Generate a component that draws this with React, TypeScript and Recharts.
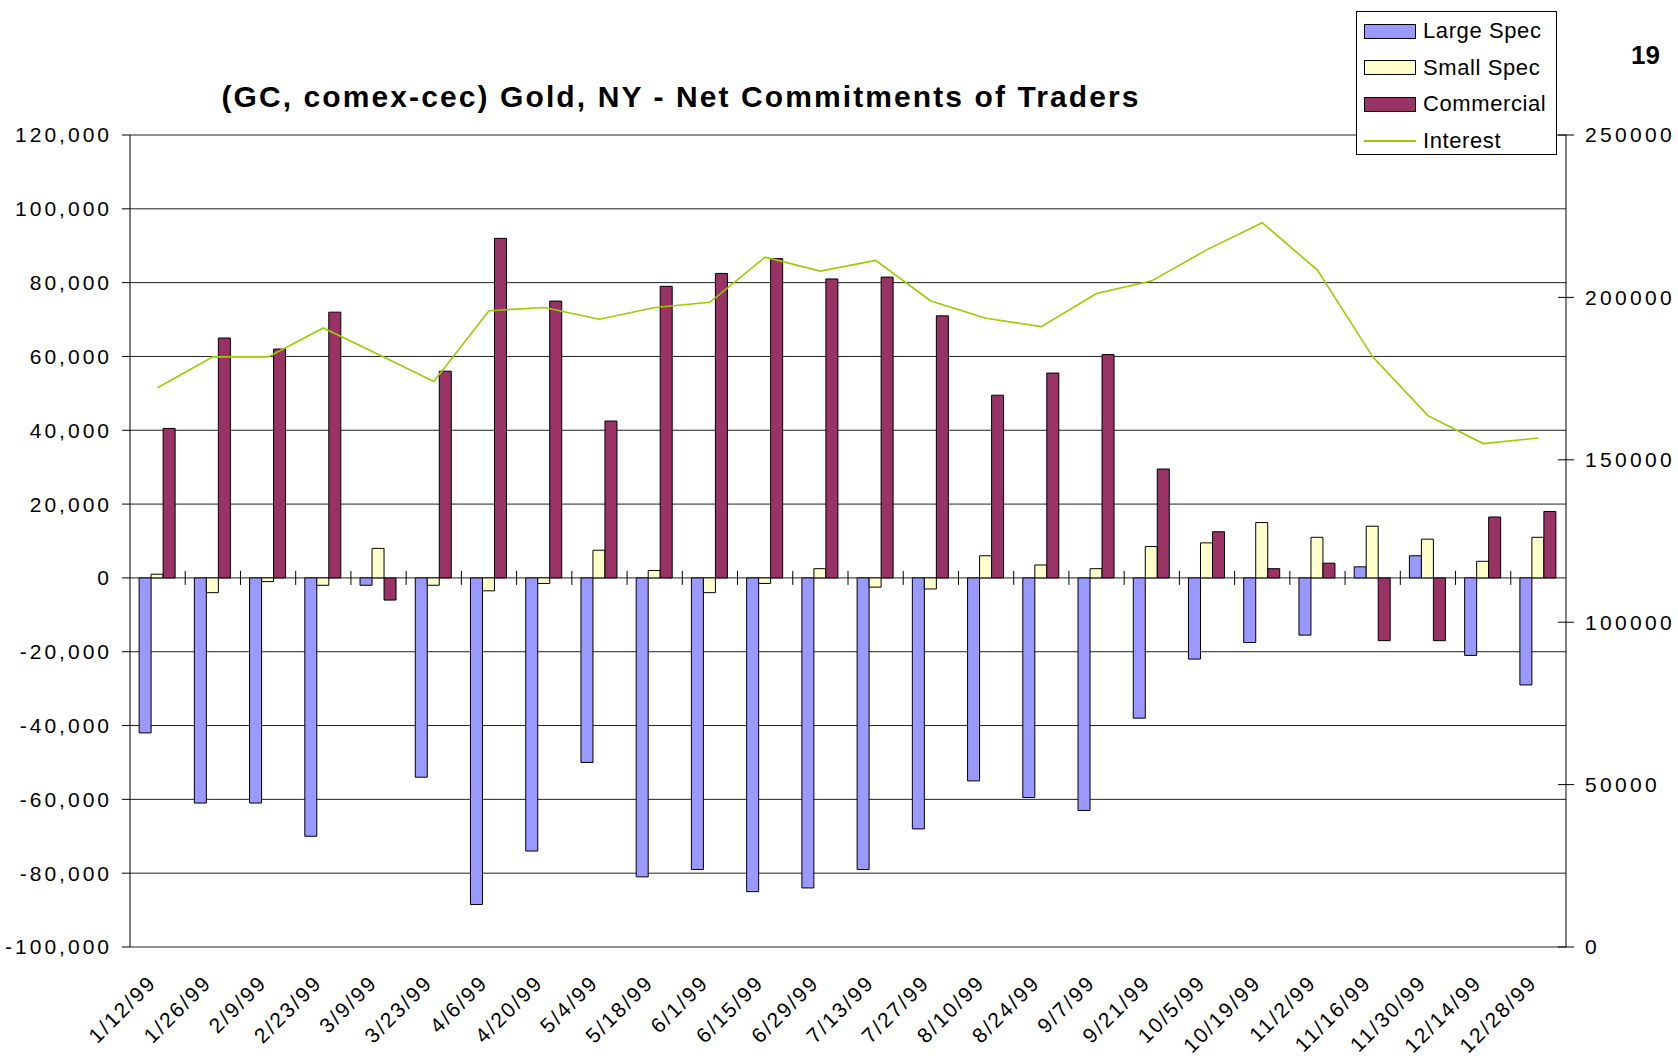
import {
  ComposedChart, Bar, Line, XAxis, YAxis, CartesianGrid, ReferenceLine,
} from 'recharts';

const dates = [
  '1/12/99', '1/26/99', '2/9/99', '2/23/99', '3/9/99', '3/23/99', '4/6/99',
  '4/20/99', '5/4/99', '5/18/99', '6/1/99', '6/15/99', '6/29/99', '7/13/99',
  '7/27/99', '8/10/99', '8/24/99', '9/7/99', '9/21/99', '10/5/99', '10/19/99',
  '11/2/99', '11/16/99', '11/30/99', '12/14/99', '12/28/99',
];

const largeSpec = [
  -42000, -61000, -61000, -70000, -2000, -54000, -88500, -74000, -50000, -81000,
  -79000, -85000, -84000, -79000, -68000, -55000, -59500, -63000, -38000, -22000,
  -17500, -15500, 3000, 6000, -21000, -29000,
];

const smallSpec = [
  1000, -4000, -1000, -2000, 8000, -2000, -3500, -1500, 7500, 2000,
  -4000, -1500, 2500, -2500, -3000, 6000, 3500, 2500, 8500, 9500,
  15000, 11000, 14000, 10500, 4500, 11000,
];

const commercial = [
  40500, 65000, 62000, 72000, -6000, 56000, 92000, 75000, 42500, 79000,
  82500, 86500, 81000, 81500, 71000, 49500, 55500, 60500, 29500, 12500,
  2500, 4000, -17000, -17000, 16500, 18000,
];

const interest = [
  172200, 181700, 181700, 190600, 182400, 174100, 195900, 196900, 193300, 196900,
  198500, 212400, 208100, 211400, 198900, 193600, 191000, 201200, 205100, 214700,
  223000, 208400, 181700, 163600, 155000, 156700,
];

const leftTicks = [-100000, -80000, -60000, -40000, -20000, 0, 20000, 40000, 60000, 80000, 100000, 120000];
const rightTicks = [0, 50000, 100000, 150000, 200000, 250000];

const data = dates.map((date, i) => ({
  date,
  largeSpec: largeSpec[i],
  smallSpec: smallSpec[i],
  commercial: commercial[i],
  interest: interest[i],
}));

const FONT = "'Liberation Sans', Arial, Helvetica, sans-serif";

const legendItems = [
  { name: 'Large Spec', color: '#9999FF', kind: 'bar' },
  { name: 'Small Spec', color: '#FFFFCC', kind: 'bar' },
  { name: 'Commercial', color: '#993366', kind: 'bar' },
  { name: 'Interest', color: '#99CC00', kind: 'line' },
];

const DateTick = ({ x, y, payload }: any) => (
  <g transform={`translate(${x},${y + 29})`}>
    <text
      x={0}
      y={0}
      textAnchor="end"
      transform="rotate(-45)"
      fontFamily={FONT}
      fontSize={21}
      letterSpacing={2.2}
      fill="#000"
    >
      {payload.value}
    </text>
  </g>
);

// right axis: tick mark crosses the axis line, like the old Excel look
const RightTick = ({ x, y, payload }: any) => (
  <g>
    <line x1={x - 27} x2={x - 11} y1={y} y2={y} stroke="#000" />
    <text
      x={x}
      y={y}
      dy="0.355em"
      textAnchor="start"
      fontFamily={FONT}
      fontSize={21}
      letterSpacing={3.3}
      fill="#000"
    >
      {payload.value}
    </text>
  </g>
);

export default function App() {
  return (
    <div style={{ position: 'absolute', left: 0, top: 0, width: 1678, height: 1062, background: '#fff' }}>
      <div
        style={{
          position: 'absolute', left: 0, width: 1362, top: 80, textAlign: 'center',
          fontFamily: FONT, fontWeight: 'bold', fontSize: 30, letterSpacing: 2.1, color: '#000',
          whiteSpace: 'nowrap',
        }}
      >
        (GC, comex-cec) Gold, NY - Net Commitments of Traders
      </div>
      <div
        style={{
          position: 'absolute', left: 1631, top: 40, fontFamily: FONT,
          fontWeight: 'bold', fontSize: 26, color: '#000',
        }}
      >
        19
      </div>
      <div
        style={{
          position: 'absolute', left: 1356, top: 11, width: 199, height: 142,
          border: '1px solid #000', background: '#fff', zIndex: 2,
        }}
      >
        {legendItems.map((item, i) => (
          <div
            key={item.name}
            style={{
              position: 'absolute', left: 7, top: 6 + i * 36.5, height: 26,
              display: 'flex', alignItems: 'center',
            }}
          >
            {item.kind === 'bar' ? (
              <div style={{ width: 50, height: 13, background: item.color, border: '1px solid #000' }} />
            ) : (
              <div style={{ width: 52, height: 2, background: item.color }} />
            )}
            <span style={{ marginLeft: 7, fontFamily: FONT, fontSize: 22, letterSpacing: 0.6, color: '#000' }}>
              {item.name}
            </span>
          </div>
        ))}
      </div>
      <ComposedChart
        width={1678}
        height={1062}
        data={data}
        margin={{ top: 135, right: 0, bottom: 0, left: 0 }}
        barCategoryGap="16.5%"
        barGap={0}
      >
        <CartesianGrid yAxisId="left" vertical={false} stroke="#222" strokeWidth={1} />
        <XAxis
          dataKey="date"
          height={115}
          interval={0}
          axisLine={false}
          tickLine={false}
          tick={<DateTick />}
        />
        <YAxis
          yAxisId="left"
          width={130}
          domain={[-100000, 120000]}
          ticks={leftTicks}
          allowDataOverflow
          tickFormatter={(v) => v.toLocaleString('en-US')}
          axisLine={{ stroke: '#000' }}
          tickLine={{ stroke: '#000' }}
          tickSize={8}
          tickMargin={10}
          tick={{ fill: '#000', fontSize: 21, fontFamily: FONT, letterSpacing: 3 }}
        />
        <YAxis
          yAxisId="right"
          orientation="right"
          width={112}
          domain={[0, 250000]}
          ticks={rightTicks}
          allowDataOverflow
          axisLine={{ stroke: '#000' }}
          tickLine={false}
          tickSize={8}
          tickMargin={11}
          tick={<RightTick />}
        />
        {dates.slice(1).map((d) => (
          <ReferenceLine
            key={d}
            yAxisId="left"
            segment={[{ x: d, y: -1900 }, { x: d, y: 1900 }]}
            position="start"
            stroke="#000"
          />
        ))}
        <Bar yAxisId="left" dataKey="largeSpec" name="Large Spec" fill="#9999FF" stroke="#000" strokeWidth={1} isAnimationActive={false} />
        <Bar yAxisId="left" dataKey="smallSpec" name="Small Spec" fill="#FFFFCC" stroke="#000" strokeWidth={1} isAnimationActive={false} />
        <Bar yAxisId="left" dataKey="commercial" name="Commercial" fill="#993366" stroke="#000" strokeWidth={1} isAnimationActive={false} />
        <Line
          yAxisId="right"
          type="linear"
          dataKey="interest"
          name="Interest"
          stroke="#99CC00"
          strokeWidth={1.6}
          dot={false}
          isAnimationActive={false}
        />
      </ComposedChart>
    </div>
  );
}
